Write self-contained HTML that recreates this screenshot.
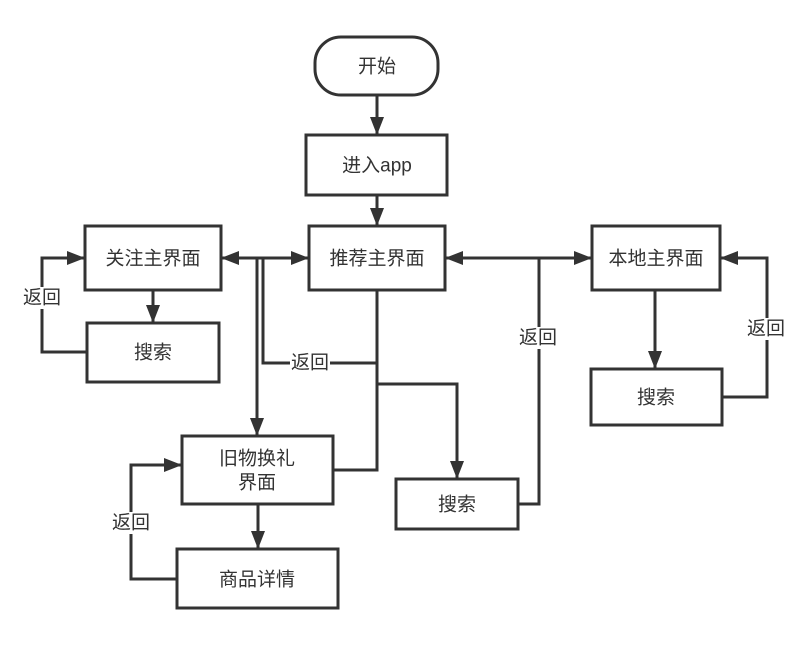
<!DOCTYPE html>
<html><head><meta charset="utf-8"><style>
html,body{margin:0;padding:0;background:#fff;}
svg{display:block;}
text{font-family:"Liberation Sans","Noto Sans CJK SC",sans-serif;font-size:19px;fill:#333;text-anchor:middle;dominant-baseline:central;}
</style></head><body>
<svg width="808" height="646" viewBox="0 0 808 646" xmlns="http://www.w3.org/2000/svg">
<defs>
<marker id="a" markerWidth="18" markerHeight="16" refX="17" refY="8" orient="auto" markerUnits="userSpaceOnUse">
<path d="M0,1 L18,8 L0,15 Z" fill="#333"/></marker>
</defs>
<g fill="none" stroke="#333" stroke-width="3">
<rect x="315" y="37" width="123" height="58" rx="26" fill="#fff"/>
<rect x="306" y="135" width="141" height="60" fill="#fff"/>
<rect x="309" y="226" width="136" height="64" fill="#fff"/>
<rect x="85" y="226" width="136" height="64" fill="#fff"/>
<rect x="592" y="226" width="128" height="64" fill="#fff"/>
<rect x="87" y="323" width="132" height="59" fill="#fff"/>
<rect x="591" y="369" width="131" height="56" fill="#fff"/>
<rect x="396" y="479" width="122" height="50" fill="#fff"/>
<rect x="182" y="436" width="151" height="68" fill="#fff"/>
<rect x="177" y="549" width="161" height="59" fill="#fff"/>

<path d="M377,95 V134" marker-end="url(#a)"/>
<path d="M377,195 V225" marker-end="url(#a)"/>
<path d="M265,258 H308" marker-end="url(#a)"/>
<path d="M265,258 H222" marker-end="url(#a)"/>
<path d="M520,258 H591" marker-end="url(#a)"/>
<path d="M520,258 H446" marker-end="url(#a)"/>
<path d="M518,504 H539 V258"/>
<path d="M153,290 V322" marker-end="url(#a)"/>
<path d="M87,352 H42 V258 H84" marker-end="url(#a)"/>
<path d="M655,290 V368" marker-end="url(#a)"/>
<path d="M722,397 H767 V258 H721" marker-end="url(#a)"/>
<path d="M258,504 V548" marker-end="url(#a)"/>
<path d="M177,579 H131 V465 H181" marker-end="url(#a)"/>
<path d="M257,258 V435" marker-end="url(#a)"/>
<path d="M377,290 V384 H457 V478" marker-end="url(#a)"/>
<path d="M333,470 H377 V363 H263 V258"/>
</g>
<g>
<rect x="22" y="287" width="40" height="22" fill="#fff"/>
<rect x="518" y="327" width="40" height="22" fill="#fff"/>
<rect x="746" y="318" width="40" height="22" fill="#fff"/>
<rect x="111" y="512" width="40" height="22" fill="#fff"/>
<rect x="290" y="352" width="40" height="22" fill="#fff"/>
</g>
<text x="377" y="67">开始</text>
<text x="377" y="166">进入app</text>
<text x="377" y="259">推荐主界面</text>
<text x="153" y="259">关注主界面</text>
<text x="656" y="259">本地主界面</text>
<text x="153" y="353">搜索</text>
<text x="656" y="398">搜索</text>
<text x="457" y="505">搜索</text>
<text x="257" y="459">旧物换礼</text>
<text x="257" y="483">界面</text>
<text x="257" y="580">商品详情</text>
<text x="42" y="298">返回</text>
<text x="538" y="338">返回</text>
<text x="766" y="329">返回</text>
<text x="131" y="523">返回</text>
<text x="310" y="363">返回</text>
</svg>
</body></html>
